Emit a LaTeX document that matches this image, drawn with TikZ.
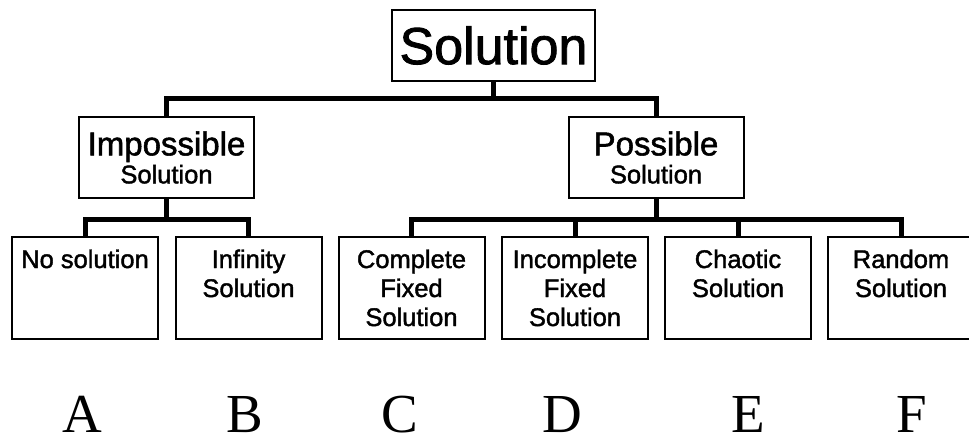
\documentclass[tikz,border=0pt]{standalone}
\usepackage{fontspec}
\setmainfont{Liberation Serif}
\newfontfamily\arialish[FakeBold=1.6]{Liberation Sans}
\newcommand\btext[1]{\parbox[c][102pt][t]{146pt}{\centering\fontsize{25.5}{29}\selectfont\vspace*{11pt}\rule{0pt}{20pt}#1}}
\begin{document}
\begin{tikzpicture}[x=1pt,y=-1pt,
  bx/.style={draw,line width=2pt,inner sep=0pt,outer sep=0pt,font=\arialish},
  lowbox/.style={bx,minimum width=146pt,minimum height=102pt},
  midbox/.style={bx,minimum width=175pt,minimum height=81pt,align=center,font=\arialish\fontsize{25.5}{28}\selectfont},
  conn/.style={line width=5pt},
  letter/.style={font=\fontsize{55}{55}\selectfont,inner sep=0pt,anchor=base}]
\path[use as bounding box] (0,0) rectangle (969,445);
\clip (0,0) rectangle (969,445);

\node[bx,minimum width=203pt,minimum height=71pt,font=\arialish\fontsize{52}{52}\selectfont] (sol) at (493.5,45.5) {Solution};

\node[midbox] (imp) at (166.5,157.5) {{\fontsize{33}{28}\selectfont Impossible}\\Solution};
\node[midbox] (pos) at (656,157.5) {{\fontsize{33}{28}\selectfont Possible}\\Solution};

\node[lowbox] (a) at (85,288) {\btext{No solution}};
\node[lowbox] (b) at (248.5,288) {\btext{Infinity\\Solution}};
\node[lowbox] (c) at (411.5,288) {\btext{Complete\\Fixed\\Solution}};
\node[lowbox] (d) at (575,288) {\btext{Incomplete\\Fixed\\Solution}};
\node[lowbox] (e) at (738,288) {\btext{Chaotic\\Solution}};
\node[lowbox] (f) at (901,288) {\btext{Random\\Solution}};

\draw[conn] (sol.south) -- ++(0,17) -| (imp.north);
\draw[conn] (sol.south) -- ++(0,17) -| (pos.north);
\draw[conn] (imp.south) -- ++(0,21) -| (a.north);
\draw[conn] (imp.south) -- ++(0,21) -| (b.north);
\draw[conn] (pos.south) -- ++(0,21) -| (c.north);
\draw[conn] (pos.south) -- ++(0,21) -| (d.north);
\draw[conn] (pos.south) -- ++(0,21) -| (e.north);
\draw[conn] (pos.south) -- ++(0,21) -| (f.north);

\node[letter] (la) at (82,432) {A};
\node[letter] (lb) at (245,432) {B};
\node[letter] (lc) at (400,432) {C};
\node[letter] (ld) at (562,432) {D};
\node[letter] (le) at (748,432) {E};
\node[letter] (lf) at (912,432) {F};
\end{tikzpicture}
\end{document}
